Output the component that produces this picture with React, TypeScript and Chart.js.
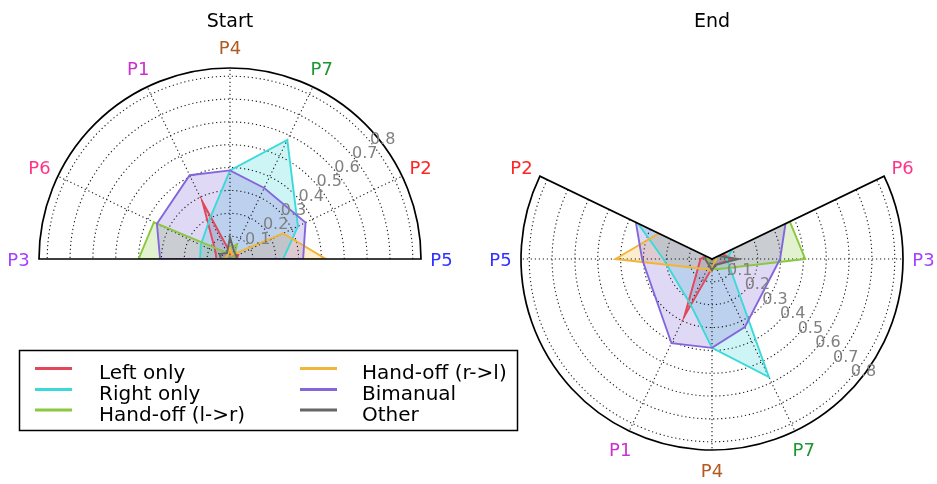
import React, { useEffect, useRef } from 'react';
import { Chart, registerables } from 'chart.js';

Chart.register(...registerables);
Chart.defaults.font.family = "'DejaVu Sans'";

// ---------- data ----------
const CATEGORIES = ['P5', 'P2', 'P7', 'P4', 'P1', 'P6', 'P3'];
const CATEGORY_COLORS = ['#3030ff', '#ff2525', '#1e9632', '#b35a1e', '#cc30cc', '#ff3388', '#a640ff'];
// angular position of every category, counter-clockwise from east, in steps of 180/14 degrees
const START_POSITIONS = [0, 2, 5, 7, 9, 12, 14];
const END_POSITIONS = [14, 12, 23, 21, 19, 2, 0];

const R_TICKS = [0.1, 0.2, 0.3, 0.4, 0.5, 0.6, 0.7, 0.8];
const R_TICK_LABELS = ['0.1', '0.2', '0.3', '0.4', '0.5', '0.6', '0.7', '0.8'];
const R_MAX = 0.836;

const SERIES_NAMES = ['Left only', 'Right only', 'Hand-off (l->r)', 'Hand-off (r->l)', 'Bimanual', 'Other'];
const SERIES_COLORS = ['#e2475a', '#3dd9d9', '#8bc83f', '#f0b63c', '#8466dc', '#666666'];

//                     P5     P2     P7     P4     P1     P6     P3
const startLeftOnly = [0.03, 0.04, 0.02, 0.03, 0.278, 0.07, 0.06];
const startRightOnly = [0.233, 0.33, 0.578, 0.388, 0.2, 0.142, 0.131];
const startHandoffLR = [0.02, 0.02, 0.07, 0.05, 0.03, 0.37, 0.4];
const startHandoffRL = [0.42, 0.258, 0.02, 0.048, 0.02, 0.02, 0.02];
const startBimanual = [0.32, 0.367, 0.345, 0.388, 0.407, 0.355, 0.306];
const startOther = [0.03, 0.03, 0.04, 0.095, 0.03, 0.05, 0.04];

const endLeftOnly = [0.05, 0.03, 0.03, 0.04, 0.279, 0.05, 0.09];
const endRightOnly = [0.213, 0.36, 0.574, 0.389, 0.219, 0.1, 0.065];
const endHandoffLR = [0.02, 0.02, 0.05, 0.04, 0.03, 0.378, 0.408];
const endHandoffRL = [0.423, 0.258, 0.02, 0.054, 0.05, 0.02, 0.02];
const endBimanual = [0.306, 0.37, 0.331, 0.389, 0.409, 0.357, 0.298];
const endOther = [0.03, 0.03, 0.03, 0.05, 0.03, 0.03, 0.115];

const START_VALUES = [startLeftOnly, startRightOnly, startHandoffLR, startHandoffRL, startBimanual, startOther];
const END_VALUES = [endLeftOnly, endRightOnly, endHandoffLR, endHandoffRL, endBimanual, endOther];

// ---------- helpers ----------
const SLOTS = 28;
const STEP = Math.PI / 14;
const FONT = '"DejaVu Sans"';

function toSlots(values: number[], positions: number[]) {
  const out: (number | null)[] = new Array(SLOTS).fill(null);
  positions.forEach((p, i) => {
    out[(SLOTS - p) % SLOTS] = values[i];
  });
  return out;
}

function rgba(hex: string, a: number) {
  const n = parseInt(hex.slice(1), 16);
  return `rgba(${(n >> 16) & 255},${(n >> 8) & 255},${n & 255},${a})`;
}

type Decor = {
  title: string;
  positions: number[];
  from: number;
  to: number;
  tickAngle: number;
  tickOffset: [number, number];
  legend: boolean;
};

function makeDecor(cfg: Decor) {
  return {
    id: 'polarDecor',
    beforeDraw(chart: any) {
      const s = chart.scales.r;
      const ctx = chart.ctx;
      const cx = s.xCenter, cy = s.yCenter, R = s.drawingArea;
      ctx.save();
      ctx.beginPath();
      ctx.moveTo(cx, cy);
      ctx.arc(cx, cy, R, -cfg.from * STEP, -cfg.to * STEP, true);
      ctx.closePath();
      ctx.clip();
    },
    beforeDatasetsDraw(chart: any) {
      const s = chart.scales.r;
      const ctx = chart.ctx;
      const cx = s.xCenter, cy = s.yCenter, R = s.drawingArea;
      ctx.save();
      ctx.strokeStyle = '#1a1a1a';
      ctx.lineWidth = 1.1;
      ctx.setLineDash([1.2, 2.8]);
      R_TICKS.forEach((t) => {
        const r = s.getDistanceFromCenterForValue(t);
        ctx.beginPath();
        ctx.arc(cx, cy, r, -cfg.from * STEP, -cfg.to * STEP, true);
        ctx.stroke();
      });
      cfg.positions.forEach((p) => {
        if (p % SLOTS === cfg.from % SLOTS || p % SLOTS === cfg.to % SLOTS) return;
        const a = p * STEP;
        ctx.beginPath();
        ctx.moveTo(cx, cy);
        ctx.lineTo(cx + R * Math.cos(a), cy - R * Math.sin(a));
        ctx.stroke();
      });
      ctx.restore();
    },
    afterDraw(chart: any) {
      const s = chart.scales.r;
      const ctx = chart.ctx;
      ctx.restore();
      const cx = s.xCenter, cy = s.yCenter, R = s.drawingArea;
      ctx.save();
      // boundary
      ctx.strokeStyle = '#000';
      ctx.lineWidth = 1.7;
      ctx.beginPath();
      ctx.moveTo(cx, cy);
      ctx.lineTo(cx + R * Math.cos(cfg.from * STEP), cy - R * Math.sin(cfg.from * STEP));
      ctx.arc(cx, cy, R, -cfg.from * STEP, -cfg.to * STEP, true);
      ctx.closePath();
      ctx.stroke();
      // radial tick labels
      ctx.font = `16px ${FONT}`;
      ctx.fillStyle = '#808080';
      ctx.textAlign = 'center';
      ctx.textBaseline = 'alphabetic';
      const ta = (cfg.tickAngle * Math.PI) / 180;
      R_TICKS.forEach((t, i) => {
        const r = s.getDistanceFromCenterForValue(t);
        const x = cx + r * Math.cos(ta) + cfg.tickOffset[0];
        const y = cy - r * Math.sin(ta) + cfg.tickOffset[1];
        ctx.fillText(R_TICK_LABELS[i], x, y + 5.8);
      });
      // category labels
      ctx.font = `18px ${FONT}`;
      CATEGORIES.forEach((c, i) => {
        const a = cfg.positions[i] * STEP;
        const r = R + 20.5;
        ctx.fillStyle = CATEGORY_COLORS[i];
        ctx.fillText(c, cx + r * Math.cos(a), cy - r * Math.sin(a) + 6.6);
      });
      // title
      ctx.font = `19px ${FONT}`;
      ctx.fillStyle = '#000';
      ctx.fillText(cfg.title, cx, 27);
      // legend
      if (cfg.legend) {
        ctx.fillStyle = '#fff';
        ctx.fillRect(19.5, 350.5, 498, 80);
        ctx.strokeStyle = '#000';
        ctx.lineWidth = 1.5;
        ctx.strokeRect(19.5, 350.5, 498, 80);
        ctx.font = `20px ${FONT}`;
        ctx.textAlign = 'left';
        const rowsBase = [379, 400, 420.5];
        SERIES_NAMES.forEach((name, i) => {
          const col = Math.floor(i / 3);
          const row = i % 3;
          const lx = col === 0 ? 35 : 300;
          const tx = col === 0 ? 99 : 362;
          const base = rowsBase[row];
          ctx.strokeStyle = SERIES_COLORS[i];
          ctx.lineWidth = 3;
          ctx.beginPath();
          ctx.moveTo(lx, base - 10.5);
          ctx.lineTo(lx + 37, base - 10.5);
          ctx.stroke();
          ctx.fillStyle = '#000';
          ctx.fillText(name, tx, base);
        });
      }
      ctx.restore();
    },
  };
}

function PolarPanel(props: { values: number[][]; decor: Decor; padding: any }) {
  const ref = useRef<HTMLCanvasElement>(null);
  useEffect(() => {
    const canvas = ref.current;
    if (!canvas) return;
    const labels = new Array(SLOTS).fill('');
    props.decor.positions.forEach((p, i) => {
      labels[(SLOTS - p) % SLOTS] = CATEGORIES[i];
    });
    const chart = new Chart(canvas, {
      type: 'radar',
      data: {
        labels,
        datasets: SERIES_NAMES.map((name, i) => ({
          label: name,
          data: toSlots(props.values[i], props.decor.positions),
          borderColor: SERIES_COLORS[i],
          backgroundColor: rgba(SERIES_COLORS[i], 0.25),
          borderWidth: 1.9,
          pointRadius: 0,
          pointHoverRadius: 0,
          fill: true,
          spanGaps: true,
          tension: 0,
          order: SERIES_NAMES.length - i,
        })),
      },
      options: {
        responsive: false,
        animation: false,
        events: [],
        layout: { padding: props.padding },
        plugins: {
          legend: { display: false },
          title: { display: false },
          tooltip: { enabled: false },
          filler: { drawTime: 'beforeDatasetsDraw' },
        },
        scales: {
          r: {
            min: 0,
            max: R_MAX,
            startAngle: 90,
            beginAtZero: true,
            grid: { display: false },
            angleLines: { display: false },
            ticks: { display: false },
            pointLabels: { display: false },
          },
        },
      } as any,
      plugins: [makeDecor(props.decor)],
    });
    return () => chart.destroy();
  }, []);
  return (
    <canvas
      ref={ref}
      width={937}
      height={484}
      style={{ position: 'absolute', left: 0, top: 0, width: 937, height: 484 }}
    />
  );
}

export default function App() {
  return (
    <div style={{ position: 'absolute', left: 0, top: 0, width: 937, height: 484, background: '#fff' }}>
      <PolarPanel
        values={START_VALUES}
        padding={{ left: 39, right: 516, top: 68, bottom: 34 }}
        decor={{
          title: 'Start',
          positions: START_POSITIONS,
          from: 0,
          to: 14,
          tickAngle: 38.7,
          tickOffset: [10, -7],
          legend: true,
        }}
      />
      <PolarPanel
        values={END_VALUES}
        padding={{ left: 521, right: 34, top: 68, bottom: 34 }}
        decor={{
          title: 'End',
          positions: END_POSITIONS,
          from: 12,
          to: 30,
          tickAngle: -39.3,
          tickOffset: [10, -4.4],
          legend: false,
        }}
      />
    </div>
  );
}
